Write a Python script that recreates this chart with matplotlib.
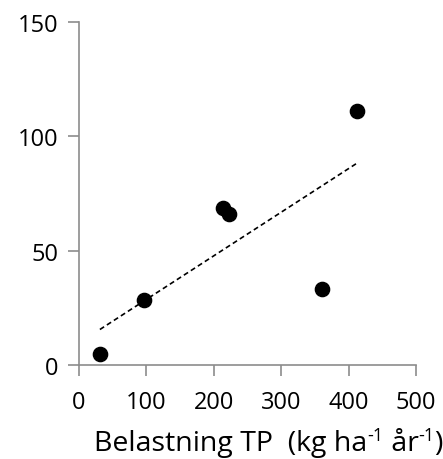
import numpy as np
import matplotlib
matplotlib.use("Agg")
import matplotlib.pyplot as plt

plt.rcParams['font.family'] = ['Open Sans', 'DejaVu Sans']

x_vals = [31, 97, 213, 223, 360, 412]
y_vals = [5, 28.5, 68.7, 66.1, 33.2, 111.2]
x_ticks = [0, 100, 200, 300, 400, 500]
y_ticks = [0, 50, 100, 150]
xlabel_parts = [("Belastning TP  (kg ha", False), ("-1", True), (" år", False), ("-1", True), (")", False)]

fig = plt.figure(figsize=(4.43, 4.60), dpi=100)
ax = fig.add_axes([79/443, 1 - 366.3/460, (416 - 79)/443, (366.3 - 22.7)/460])

xs = np.array(x_vals, dtype=float)
ys = np.array(y_vals, dtype=float)
m, b = np.polyfit(xs, ys, 1)
xl = np.array([xs.min(), xs.max()])
ax.plot(xl, m * xl + b, color='black', linestyle=(0, (3, 2)), lw=1.2, zorder=2)
ax.scatter(xs, ys, s=105, color='black', zorder=3, clip_on=False)

ax.set_xlim(0, 500)
ax.set_ylim(0, 150)
ax.set_xticks(x_ticks)
ax.set_yticks(y_ticks)
for s in ['top', 'right']:
    ax.spines[s].set_visible(False)
for s in ['left', 'bottom']:
    ax.spines[s].set_color('#8c8c8c')
    ax.spines[s].set_linewidth(1.2)
ax.tick_params(axis='both', direction='out', length=8, width=1.2, color='#8c8c8c',
               labelsize=17)
ax.tick_params(axis='y', pad=7)
ax.tick_params(axis='x', pad=10)
ax.patch.set_alpha(0)

# x label built from pieces so the superscripts use a plain hyphen
main_fs = 20.5
sup_fs = 13
base_y = 1 - 451/460
fig.canvas.draw()
renderer = fig.canvas.get_renderer()
texts = []
for txt, sup in xlabel_parts:
    t = fig.text(0, base_y + (10/460 if sup else 0), txt, fontsize=sup_fs if sup else main_fs,
                 ha='left', va='baseline')
    texts.append(t)
widths = [t.get_window_extent(renderer).width for t in texts]
total = sum(widths)
x0 = 268.5 - total / 2
for t, w in zip(texts, widths):
    t.set_x(x0 / 443)
    x0 += w

fig.savefig("out.png", dpi=100)
